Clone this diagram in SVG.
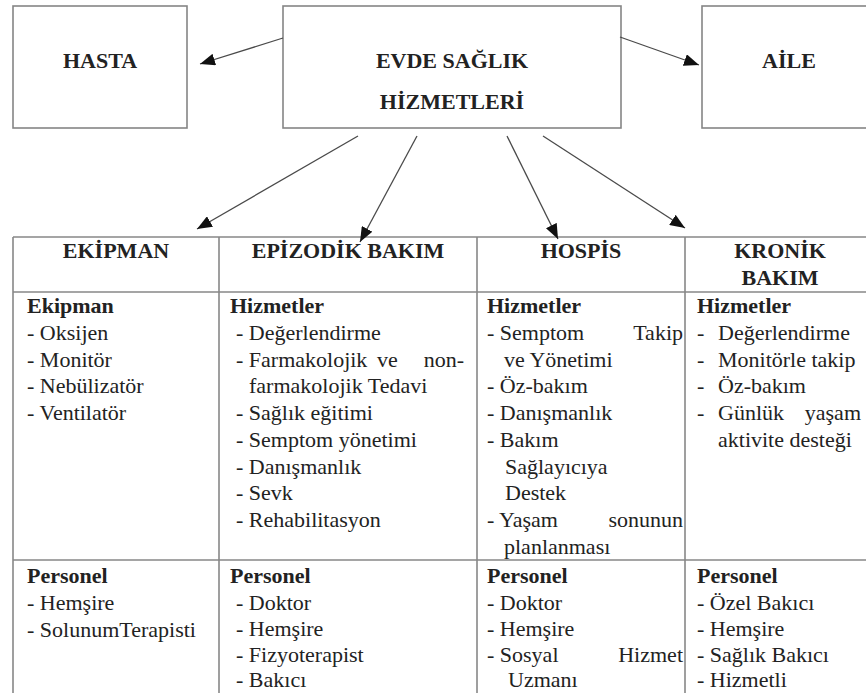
<svg xmlns="http://www.w3.org/2000/svg" width="866" height="693" viewBox="0 0 866 693">
<style>
text{font-family:"Times New Roman",Times,Tinos,"Liberation Serif","Nimbus Roman","Nimbus Roman No9 L",FreeSerif,"DejaVu Serif","Noto Serif",Georgia,serif;font-size:22px;fill:#222}
.b{font-weight:bold}
.c{text-anchor:middle}
.e{text-anchor:end}
.box{fill:#fff;stroke:#858585;stroke-width:1.6}
.tl{stroke:#888;stroke-width:1.6;fill:none}
.ar{stroke:#4a4a4a;stroke-width:1.3;fill:none;marker-end:url(#ah)}
</style>
<defs>
<marker id="ah" markerUnits="userSpaceOnUse" markerWidth="16" markerHeight="12" viewBox="0 0 16 12" refX="15" refY="6" orient="auto">
<path d="M0,0 L15,6 L0,12 z" fill="#111"/>
</marker>
</defs>
<rect width="866" height="693" fill="#fff"/>

<g id="hasta">
<rect class="box" x="13" y="6" width="174" height="122"/>
<text class="b c" x="100" y="68">HASTA</text>
</g>
<g id="evde">
<rect class="box" x="283" y="6" width="338" height="122"/>
<text class="b c" x="452" y="68">EVDE SAĞLIK</text>
<text class="b c" x="452" y="109">HİZMETLERİ</text>
</g>
<g id="aile">
<rect class="box" x="702" y="6" width="174" height="122"/>
<text class="b c" x="789" y="68">AİLE</text>
</g>

<g id="table-grid">
<path class="tl" d="M13,237 H880 M13,292 H880 M13,560 H880 M13,237 V700 M219,237 V700 M477,237 V700 M685,237 V700"/>
</g>

<g id="ekipman">
<text class="b c" x="116" y="258">EKİPMAN</text>
<text class="b" x="27" y="313">Ekipman</text>
<text x="27" y="340">- Oksijen</text>
<text x="27" y="367">- Monitör</text>
<text x="27" y="393">- Nebülizatör</text>
<text x="27" y="420">- Ventilatör</text>
<text class="b" x="27" y="583">Personel</text>
<text x="27" y="610">- Hemşire</text>
<text x="27" y="637">- SolunumTerapisti</text>
</g>

<g id="epizodik">
<text class="b c" x="348" y="258">EPİZODİK BAKIM</text>
<text class="b" x="230" y="313">Hizmetler</text>
<text x="236" y="340">- Değerlendirme</text>
<text x="236" y="367">- Farmakolojik</text>
<text x="377" y="367">ve</text>
<text class="e" x="464" y="367">non-</text>
<text x="249" y="393">farmakolojik Tedavi</text>
<text x="236" y="420">- Sağlık eğitimi</text>
<text x="236" y="447">- Semptom yönetimi</text>
<text x="236" y="474">- Danışmanlık</text>
<text x="236" y="500">- Sevk</text>
<text x="236" y="527">- Rehabilitasyon</text>
<text class="b" x="230" y="583">Personel</text>
<text x="236" y="610">- Doktor</text>
<text x="236" y="636">- Hemşire</text>
<text x="236" y="662">- Fizyoterapist</text>
<text x="236" y="687">- Bakıcı</text>
</g>

<g id="hospis">
<text class="b c" x="581" y="258">HOSPİS</text>
<text class="b" x="487" y="313">Hizmetler</text>
<text x="487" y="340">- Semptom</text>
<text class="e" x="683" y="340">Takip</text>
<text x="504" y="367">ve Yönetimi</text>
<text x="487" y="393">- Öz-bakım</text>
<text x="487" y="420">- Danışmanlık</text>
<text x="487" y="447">- Bakım</text>
<text x="505" y="474">Sağlayıcıya</text>
<text x="505" y="500">Destek</text>
<text x="487" y="527">- Yaşam</text>
<text class="e" x="683" y="527">sonunun</text>
<text x="504" y="554">planlanması</text>
<text class="b" x="487" y="583">Personel</text>
<text x="487" y="610">- Doktor</text>
<text x="487" y="636">- Hemşire</text>
<text x="487" y="662">- Sosyal</text>
<text class="e" x="683" y="662">Hizmet</text>
<text x="508" y="687">Uzmanı</text>
</g>

<g id="kronik">
<text class="b c" x="780" y="258">KRONİK</text>
<text class="b c" x="780" y="285">BAKIM</text>
<text class="b" x="697" y="313">Hizmetler</text>
<text x="697" y="340">-</text><text x="718" y="340">Değerlendirme</text>
<text x="697" y="367">-</text><text x="718" y="367">Monitörle takip</text>
<text x="697" y="393">-</text><text x="718" y="393">Öz-bakım</text>
<text x="697" y="420">-</text><text x="718" y="420">Günlük</text>
<text class="e" x="861" y="420">yaşam</text>
<text x="718" y="447">aktivite desteği</text>
<text class="b" x="697" y="583">Personel</text>
<text x="697" y="610">- Özel Bakıcı</text>
<text x="697" y="636">- Hemşire</text>
<text x="697" y="662">- Sağlık Bakıcı</text>
<text x="697" y="687">- Hizmetli</text>
</g>

<g id="connectors">
<line class="ar" x1="283" y1="38" x2="200" y2="64"/>
<line class="ar" x1="620" y1="37" x2="699" y2="65"/>
<line class="ar" x1="358" y1="136" x2="197" y2="229"/>
<line class="ar" x1="417" y1="136" x2="360" y2="242"/>
<line class="ar" x1="507" y1="136" x2="558" y2="239"/>
<line class="ar" x1="543" y1="136" x2="685" y2="228"/>
</g>
</svg>
